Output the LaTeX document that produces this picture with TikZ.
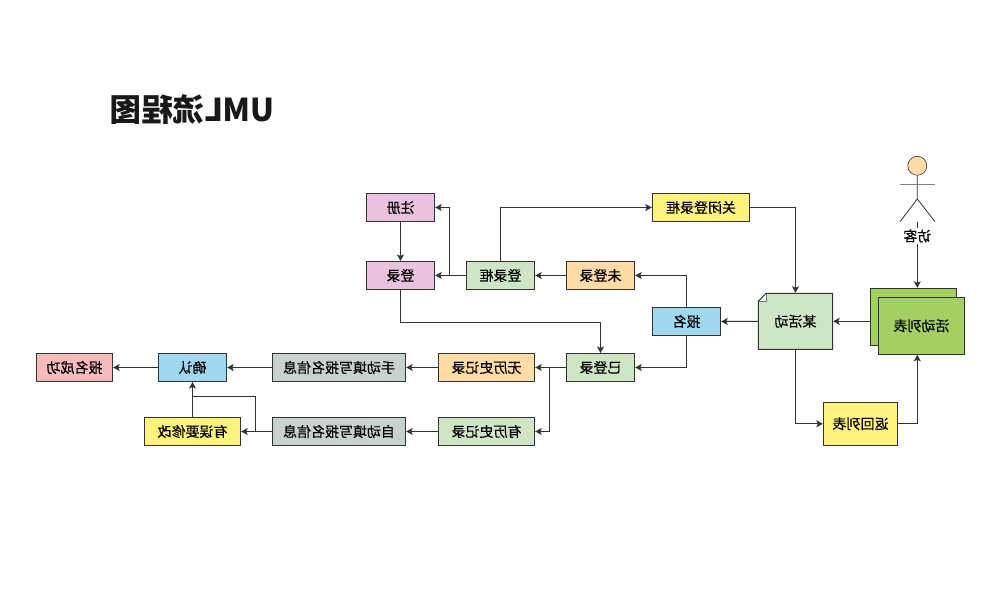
\documentclass[tikz,border=0pt]{standalone}
\usepackage{fontspec}
\setmainfont[FakeBold=0.25,BoldFeatures={FakeBold=0}]{Noto Sans CJK SC}
\usetikzlibrary{arrows.meta}
\definecolor{pk}{HTML}{E9C3DD}
\definecolor{gn}{HTML}{CEE6C6}
\definecolor{og}{HTML}{FFDBA6}
\definecolor{yw}{HTML}{FFF380}
\definecolor{bl}{HTML}{A0D8F0}
\definecolor{gy}{HTML}{C8D1CB}
\definecolor{rd}{HTML}{F7BBBB}
\definecolor{lv}{HTML}{A3CF63}
\definecolor{ln}{HTML}{333333}
\newcommand{\mtxt}[1]{\raisebox{-.7pt}{\reflectbox{#1}}}
\tikzset{box/.style={draw=ln,line width=1pt,inner sep=0pt,minimum height=28pt,font=\fontsize{14}{16}\selectfont},
	link/.style={draw=ln,line width=1pt,-{Stealth[length=6.5pt,width=7pt,inset=1.5pt]}}}
\begin{document}
\begin{tikzpicture}[x=1pt,y=-1pt]
	\useasboundingbox(0,0) rectangle (1002,602);
	\node[text=black!90](title) at (192.5,109.5){\fontsize{31.5}{36}\selectfont\bfseries\reflectbox{UML流程图}};
	\foreach \n/\x/\y/\w/\c/\t in {zc/400.5/207.5/68.4/pk/注册, dl/400.5/275.5/68.4/pk/登录, dlk/500.5/275.5/68.4/gn/登录框, wdl/600.5/275.5/68.4/og/未登录, gb/701/207.5/97.4/yw/关闭登录框, bm/686.5/321.5/68.4/bl/报名, ydl/600.5/367.5/68.4/gn/已登录, wls/486.5/367.5/96.4/og/无历史记录, yls/486.5/431.5/96.4/gn/有历史记录, sd/339/367.5/133.4/gy/手动填写报名信息, zd/339/431.5/133.4/gy/自动填写报名信息, qr/192.5/367.5/68.4/bl/确认, cg/74.5/367.5/76.4/rd/报名成功, xg/192.5/431.5/96.4/yw/有误要修改}
		\node[box,fill=\c,minimum width=\w pt](\n) at (\x,\y){\mtxt{\t}};
	\node[box,fill=yw,minimum width=74.4pt,minimum height=43pt](fh) at (860.5,423.8){\mtxt{返回列表}};
	\draw[ln,line width=1pt,fill=gn](766.3,293.3)--(832.7,293.3)--(832.7,349.3)--(758.3,349.3)--(758.3,301.3)--cycle;
	\draw[ln,line width=.6pt,fill=white](758.3,301.3)--(766.3,301.3)--(766.3,293.3)--cycle;
	\node[box,draw=none,minimum width=74.4pt,minimum height=56pt](mhd) at (795.5,321.3){\mtxt{某活动}};
	\node[box,fill=lv,minimum width=86.4pt,minimum height=57pt](hdb) at (913.5,316.8){};
	\node[box,fill=lv,minimum width=86.4pt,minimum height=57pt](hdf) at (921.5,325.8){\mtxt{活动列表}};
	\node[circle,draw=ln,line width=.6pt,fill=og,minimum size=19pt,inner sep=0pt](head) at (917.3,165.8){};
	\coordinate(hip) at (917.3,199);
	\coordinate(foot) at (917.3,221.7);
	\coordinate(arml) at (900,184.7);
	\coordinate(armr) at (935,184.7);
	\draw[ln,line width=.8pt](head.south)--(hip)--(arml|-foot)(hip)--(armr|-foot);
	\draw[gray,line width=1pt](arml)--(armr);
	\draw[link](zc)--(dl);
	\draw[link](dlk)--(dl);
	\draw[link](449.7,275.5)|-(zc.east);
	\draw[link](dlk.north)|-(gb.west);
	\draw[link](wdl)--(dlk);
	\draw[link](gb.east)-|(mhd.north);
	\draw[link](bm.north)|-(wdl.east);
	\draw[link](bm.south)|-(ydl.east);
	\draw[link](mhd.west)--(bm.east);
	\draw[link](dl.south)--(400.5,322.3)-|(ydl.north);
	\draw[link](ydl)--(wls);
	\draw[link](549.7,367.5)|-(yls.east);
	\draw[link](wls)--(sd);
	\draw[link](yls)--(zd);
	\draw[link](sd)--(qr);
	\draw[link](qr)--(cg);
	\draw[link](zd)--(xg);
	\draw[link](xg)--(qr);
	\draw[draw=ln,line width=1pt](255.7,431.5)--(255.7,396.3)--(192.5,396.3);
	\draw[link](mhd.south)|-(fh.west);
	\draw[link](fh.east)-|(foot|-hdf.south);
	\draw[link](foot)--(foot|-hdb.north);
	\draw[link](hdb.west|-mhd.east)--(mhd.east);
	\node[fill=white,inner sep=1pt,font=\fontsize{14}{16}\selectfont](fk) at (917.3,236){\mtxt{访客}};
\end{tikzpicture}
\end{document}
